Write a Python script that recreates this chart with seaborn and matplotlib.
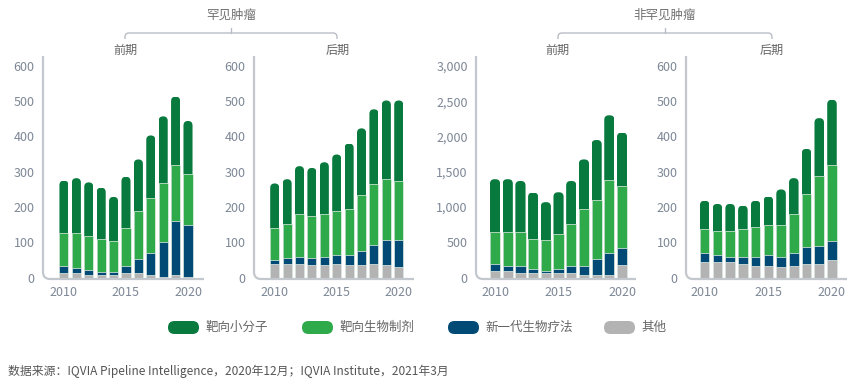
import numpy as np
import matplotlib
matplotlib.use("Agg")
import matplotlib.pyplot as plt
import seaborn as sns
from matplotlib.patches import FancyBboxPatch, PathPatch
from matplotlib.path import Path

# ---------------- data ----------------
years = [str(y) for y in range(2010, 2021)]
series_names = ["靶向小分子", "靶向生物制剂", "新一代生物疗法", "其他"]

# panel 1: 罕见肿瘤 前期
p1_other = [12, 12, 8, 8, 8, 12, 12, 8, 2, 8, 2]
p1_nextgen = [21, 15, 14, 8, 8, 21, 41, 63, 99, 153, 148]
p1_bio = [95, 101, 96, 93, 87, 107, 135, 155, 166, 158, 143]
p1_small = [147, 154, 152, 146, 126, 146, 147, 177, 190, 194, 151]

# panel 2: 罕见肿瘤 后期
p2_other = [39, 39, 39, 35, 35, 39, 35, 35, 39, 35, 29]
p2_nextgen = [11, 16, 21, 20, 25, 26, 30, 42, 54, 73, 79]
p2_bio = [91, 98, 121, 120, 121, 124, 130, 156, 172, 172, 167]
p2_small = [126, 126, 135, 136, 146, 160, 185, 190, 212, 222, 227]

# panel 3: 非罕见肿瘤 前期
p3_other = [100, 100, 70, 70, 70, 70, 70, 35, 35, 35, 180]
p3_nextgen = [100, 70, 100, 50, 30, 50, 100, 135, 225, 310, 245]
p3_bio = [445, 475, 475, 435, 435, 500, 585, 800, 840, 1040, 875]
p3_small = [750, 750, 725, 650, 535, 590, 615, 705, 850, 915, 755]

# panel 4: 非罕见肿瘤 后期
p4_other = [44, 44, 44, 39, 34, 34, 29, 34, 39, 39, 50]
p4_nextgen = [26, 21, 16, 21, 26, 31, 31, 36, 47, 52, 55]
p4_bio = [68, 67, 72, 78, 84, 84, 89, 111, 151, 197, 214]
p4_small = [80, 77, 77, 66, 74, 81, 101, 101, 128, 164, 185]

group_titles = ["罕见肿瘤", "非罕见肿瘤"]
phase_titles = ["前期", "后期", "前期", "后期"]
source_text = "数据来源：IQVIA Pipeline Intelligence，2020年12月；IQVIA Institute，2021年3月"

# ---------------- style ----------------
sns.set_theme(style="white")
plt.rcParams["font.family"] = ["Noto Sans CJK SC", "DejaVu Sans"]

C_SMALL = "#087a3d"
C_BIO = "#2eaa4b"
C_NEXT = "#004a75"
C_OTHER = "#b3b3b3"
SPINE = "#c3c7ce"
TICK = "#7d8796"
TXT = "#666666"

W, H = 867, 387
fig = plt.figure(figsize=(W / 100, H / 100), dpi=100)


def px_axes(left, right, top, bottom):
    return fig.add_axes([left / W, 1 - bottom / H, (right - left) / W, (bottom - top) / H])


panels = [
    dict(seg=(p1_other, p1_nextgen, p1_bio, p1_small), box=(43, 204), ylim=(-3.7, 628),
         ticks=[0, 100, 200, 300, 400, 500, 600], xlim=(-1.69, 11.29), width=0.73),
    dict(seg=(p2_other, p2_nextgen, p2_bio, p2_small), box=(254, 414), ylim=(-3.7, 628),
         ticks=[0, 100, 200, 300, 400, 500, 600], xlim=(-1.67, 11.23), width=0.73),
    dict(seg=(p3_other, p3_nextgen, p3_bio, p3_small), box=(476, 636), ylim=(-18.5, 3140),
         ticks=[0, 500, 1000, 1500, 2000, 2500, 3000], xlim=(-1.5, 11.1), width=0.8),
    dict(seg=(p4_other, p4_nextgen, p4_bio, p4_small), box=(686, 847), ylim=(-3.7, 628),
         ticks=[0, 100, 200, 300, 400, 500, 600], xlim=(-1.47, 11.18), width=0.75),
]
TOP, BOT = 56, 279
colors = [C_OTHER, C_NEXT, C_BIO, C_SMALL]

for p in panels:
    l, r = p["box"]
    ax = px_axes(l, r, TOP, BOT)
    cum = np.cumsum(np.array(p["seg"], dtype=float), axis=0)
    containers = []
    for i in range(3, -1, -1):
        lw = 0 if i == 3 else 0.5
        sns.barplot(x=years, y=cum[i], color=colors[i], width=p["width"], saturation=1,
                    linewidth=lw, edgecolor="#e8f0ea", errorbar=None, ax=ax,
                    zorder=2 + (3 - i))
        containers.append(ax.containers[-1])
    ax.set_xlim(*p["xlim"])
    ax.set_ylim(*p["ylim"])

    # rounded tops on the total bars
    axw, axh = r - l, BOT - TOP
    xpx = axw / (p["xlim"][1] - p["xlim"][0])
    ypx = axh / (p["ylim"][1] - p["ylim"][0])
    asp = xpx / ypx
    for rect in containers[0]:
        x0, w, h = rect.get_x(), rect.get_width(), rect.get_height()
        rr = min(4.5, w * xpx * 0.5) / xpx
        fb = FancyBboxPatch((x0, -h * 0.5), w, h * 1.5,
                            boxstyle=f"round,pad=0,rounding_size={rr}",
                            mutation_aspect=asp, transform=ax.transData)
        rect.set_clip_path(fb)

    # axes & ticks
    for s in ax.spines.values():
        s.set_visible(False)
    ax.set_xticks([0, 5, 10])
    ax.set_xticklabels(["2010", "2015", "2020"])
    ax.set_yticks(p["ticks"])
    ax.set_yticklabels([f"{t:,}" for t in p["ticks"]])
    ax.tick_params(axis="both", length=0, labelsize=9, colors=TICK)
    ax.tick_params(axis="y", pad=6)
    ax.tick_params(axis="x", pad=5)
    ax.set_xlabel("")
    ax.set_ylabel("")
    ax.grid(False)
    ax.patch.set_alpha(0)

    rad = 7
    rx, ry = rad / axw, rad / axh
    verts = [(0, 1), (0, ry), (0, 0), (rx, 0), (1, 0)]
    codes = [Path.MOVETO, Path.LINETO, Path.CURVE3, Path.CURVE3, Path.LINETO]
    ax.add_patch(PathPatch(Path(verts, codes), fill=False, edgecolor=SPINE, lw=1.6,
                           transform=ax.transAxes, clip_on=False, zorder=10))

# ---------------- overlay: headers, brackets, legend, source ----------------
ov = fig.add_axes([0, 0, 1, 1])
ov.set_xlim(0, W)
ov.set_ylim(H, 0)
ov.axis("off")

phase_x = [125, 338, 558, 772]
for x, t in zip(phase_x, phase_titles):
    ov.text(x, 50, t, ha="center", va="center", fontsize=8.7, color=TXT)

BR = "#b9bdc5"
for (x0, x1), t in zip([(125, 337), (558, 772)], group_titles):
    xc = (x0 + x1) / 2
    rr = 4
    verts = [(x0, 39), (x0, 33 + rr), (x0, 33), (x0 + rr, 33), (x1 - rr, 33),
             (x1, 33), (x1, 33 + rr), (x1, 39)]
    codes = [Path.MOVETO, Path.LINETO, Path.CURVE3, Path.CURVE3, Path.LINETO,
             Path.CURVE3, Path.CURVE3, Path.LINETO]
    ov.add_patch(PathPatch(Path(verts, codes), fill=False, edgecolor=BR, lw=1.0))
    ov.plot([xc, xc], [33, 27.5], color=BR, lw=1.0)
    ov.text(xc, 15, t, ha="center", va="center", fontsize=9, color="#707070")

leg_x = [168, 302, 448, 604]
leg_colors = [C_SMALL, C_BIO, C_NEXT, C_OTHER]
for x, c, name in zip(leg_x, leg_colors, series_names):
    ov.add_patch(FancyBboxPatch((x, 321), 31, 13, boxstyle="round,pad=0,rounding_size=6.5",
                                facecolor=c, edgecolor="none"))
    ov.text(x + 37, 327.5, name, ha="left", va="center", fontsize=9, color=TXT)

ov.text(8, 371, source_text, ha="left", va="center", fontsize=8.55, color="#555555")

fig.savefig("out.png", dpi=100)
